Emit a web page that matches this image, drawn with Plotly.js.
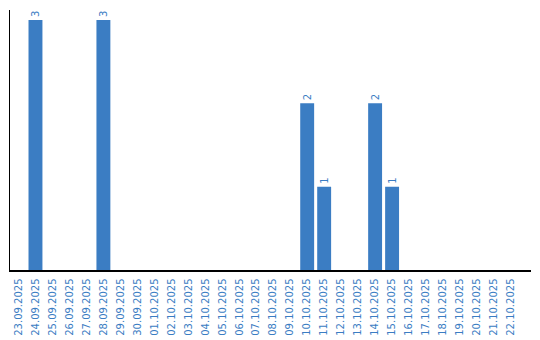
<!DOCTYPE html>
<html>
<head>
<meta charset="utf-8">
<script src="https://cdn.plot.ly/plotly-3.0.1.min.js"></script>
<style>html,body{margin:0;padding:0;background:#fff;}#chart{width:540px;height:340px;}</style>
</head>
<body>
<div id="chart"></div>
<script>
const categories = ["23.09.2025","24.09.2025","25.09.2025","26.09.2025","27.09.2025","28.09.2025","29.09.2025","30.09.2025","01.10.2025","02.10.2025","03.10.2025","04.10.2025","05.10.2025","06.10.2025","07.10.2025","08.10.2025","09.10.2025","10.10.2025","11.10.2025","12.10.2025","13.10.2025","14.10.2025","15.10.2025","16.10.2025","17.10.2025","18.10.2025","19.10.2025","20.10.2025","21.10.2025","22.10.2025"];
const values = [0,3,0,0,0,3,0,0,0,0,0,0,0,0,0,0,0,2,1,0,0,2,1,0,0,0,0,0,0,0];
const labels = values.map(v => v > 0 ? String(v) : "");

const blue = "#3b7dc3";
const fam = "'DejaVu Sans', Verdana, sans-serif";
Plotly.newPlot("chart", [{
  type: "bar",
  x: categories,
  y: values,
  text: labels,
  textposition: "outside",
  textangle: -90,
  cliponaxis: false,
  textfont: {family: fam, size: 10, color: blue},
  marker: {color: blue},
  width: 0.82,
  hoverinfo: "none"
}], {
  width: 540, height: 340,
  margin: {l: 10, r: 9, t: 10, b: 70},
  paper_bgcolor: "#fff", plot_bgcolor: "#fff",
  showlegend: false,
  font: {family: fam, size: 10, color: blue},
  xaxis: {
    type: "category",
    range: [-0.5, 30.18],
    tickangle: -90,
    showgrid: false,
    zeroline: false,
    showline: true, linecolor: "#000", linewidth: 1.5,
    ticks: "outside", ticklen: 3, tickcolor: "rgba(0,0,0,0)",
    tickfont: {family: fam, size: 10, color: blue},
    automargin: false,
    fixedrange: true
  },
  yaxis: {
    range: [0, 3.12],
    showgrid: false,
    zeroline: false,
    showline: true, linecolor: "#000", linewidth: 1.5,
    showticklabels: false,
    ticks: "",
    automargin: false,
    fixedrange: true
  }
}, {displayModeBar: false, staticPlot: true});
</script>
</body>
</html>
